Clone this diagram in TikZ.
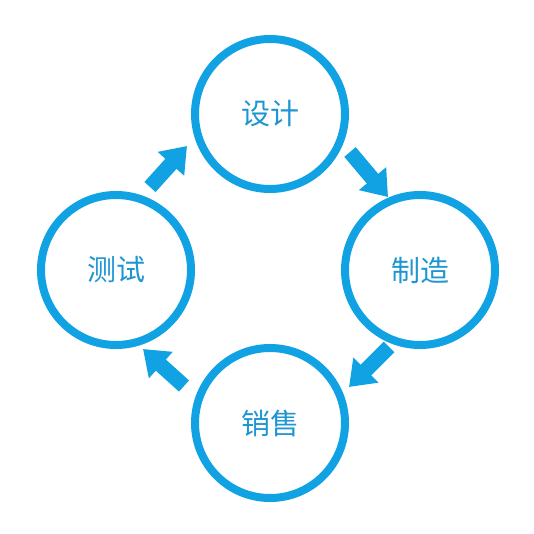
\documentclass[tikz,border=0pt]{standalone}
\usepackage{fontspec}
\newfontfamily\cjk{Noto Sans CJK SC}
\usetikzlibrary{arrows.meta}
\definecolor{cyc}{RGB}{16,162,226}
\definecolor{cyctext}{RGB}{30,150,210}
\tikzset{
  stage/.style={circle, draw=cyc, line width=8pt, minimum size=150pt, inner sep=0pt,
    font=\cjk\fontsize{29}{29}\selectfont, text=cyctext},
  blockarrow/.style={draw=cyc, line width=15pt, line cap=butt,
    -{Triangle[length=24pt, width=34pt, fill=cyc]}}
}
\begin{document}
\begin{tikzpicture}[x=1pt,y=-1pt]
\useasboundingbox (0,0) rectangle (534,534);
\node[stage] (design) at (270,114) {设计};
\node[stage] (make) at (420,270) {制造};
\node[stage] (sell) at (270,423) {销售};
\node[stage] (test) at (116,270) {测试};
\coordinate (a1s) at (150,187);
\coordinate (a1e) at (187,146);
\coordinate (a2s) at (350,152);
\coordinate (a2e) at (388,197);
\coordinate (a3s) at (389,347);
\coordinate (a3e) at (349,387);
\coordinate (a4s) at (184,386);
\coordinate (a4e) at (143,349);
\draw[blockarrow] (a1s) -- (a1e);
\draw[blockarrow] (a2s) -- (a2e);
\draw[blockarrow] (a3s) -- (a3e);
\draw[blockarrow] (a4s) -- (a4e);
\end{tikzpicture}
\end{document}
